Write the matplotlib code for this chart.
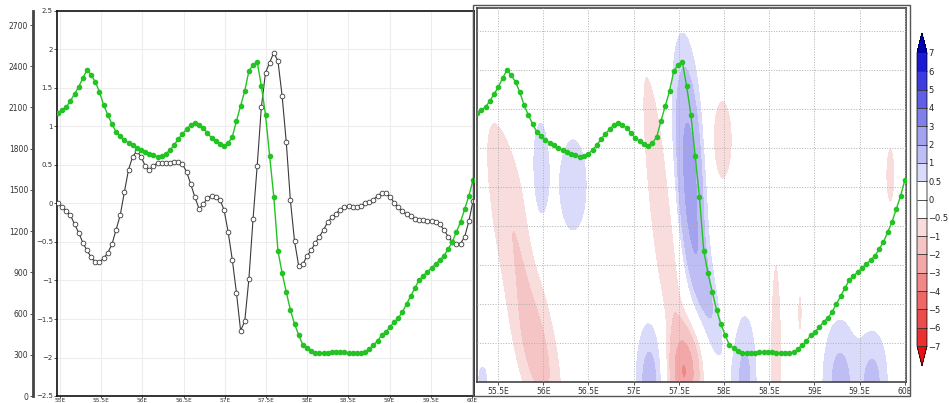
import numpy as np
import matplotlib
matplotlib.use("Agg")
import matplotlib.pyplot as plt
from matplotlib.colors import ListedColormap, BoundaryNorm
from matplotlib.patches import Rectangle

# ---------------- data ----------------
lon_left = np.linspace(54.976, 60.012, 101)
lon_right = np.linspace(55.268, 60.0, 101)

terrain_height = [
    2060, 2082, 2104, 2148, 2199, 2250, 2315, 2373, 2337, 2286,
    2213, 2118, 2046, 1980, 1922, 1893, 1864, 1842, 1827, 1805,
    1791, 1776, 1762, 1754, 1740, 1747, 1762, 1791, 1827, 1871,
    1907, 1944, 1973, 1987, 1973, 1951, 1915, 1878, 1856, 1835,
    1820, 1842, 1886, 2002, 2111, 2220, 2366, 2410, 2431, 2257,
    2046, 1747, 1449, 1056, 895, 757, 626, 524, 444, 371,
    349, 328, 313, 313, 313, 313, 320, 320, 320, 320,
    313, 313, 313, 313, 320, 342, 371, 400, 444, 466,
    502, 539, 568, 612, 670, 728, 786, 844, 874, 903,
    932, 961, 990, 1019, 1070, 1121, 1194, 1267, 1361, 1456,
    1572]

anomaly = [
    0.00, -0.05, -0.10, -0.15, -0.27, -0.38, -0.51, -0.61, -0.70, -0.76,
    -0.76, -0.71, -0.64, -0.53, -0.34, -0.15, 0.15, 0.44, 0.61, 0.68,
    0.61, 0.49, 0.44, 0.49, 0.53, 0.53, 0.53, 0.53, 0.54, 0.54,
    0.51, 0.41, 0.25, 0.08, -0.07, -0.01, 0.07, 0.10, 0.09, 0.05,
    -0.08, -0.37, -0.73, -1.16, -1.65, -1.53, -0.98, -0.20, 0.49, 1.25,
    1.70, 1.83, 1.96, 1.85, 1.40, 0.80, 0.04, -0.49, -0.81, -0.79,
    -0.68, -0.61, -0.51, -0.43, -0.34, -0.24, -0.18, -0.13, -0.08, -0.05,
    -0.03, -0.04, -0.04, -0.03, 0.00, 0.02, 0.05, 0.10, 0.13, 0.13,
    0.09, 0.01, -0.05, -0.10, -0.14, -0.16, -0.20, -0.21, -0.22, -0.23,
    -0.23, -0.24, -0.27, -0.34, -0.43, -0.50, -0.53, -0.52, -0.43, -0.23,
    0.03]

x_ticks_left = [55.0, 55.5, 56.0, 56.5, 57.0, 57.5, 58.0, 58.5, 59.0, 59.5, 60.0]
x_labels_left = ["55E", "55.5E", "56E", "56.5E", "57E", "57.5E", "58E",
                 "58.5E", "59E", "59.5E", "60E"]
x_ticks_right = [55.5, 56.0, 56.5, 57.0, 57.5, 58.0, 58.5, 59.0, 59.5, 60.0]
x_labels_right = ["55.5E", "56E", "56.5E", "57E", "57.5E", "58E",
                  "58.5E", "59E", "59.5E", "60E"]
height_ticks = [0, 300, 600, 900, 1200, 1500, 1800, 2100, 2400, 2700]
anom_ticks = [-2.5, -2, -1.5, -1, -0.5, 0, 0.5, 1, 1.5, 2, 2.5]
anom_labels = ["\u22122.5", "\u22122", "\u22121.5", "\u22121", "\u22120.5", "0",
               "0.5", "1", "1.5", "2", "2.5"]
cbar_levels = [-7, -6, -5, -4, -3, -2, -1, -0.5, 0, 0.5, 1, 2, 3, 4, 5, 6, 7]
cbar_labels = ["\u22127", "\u22126", "\u22125", "\u22124", "\u22123", "\u22122",
               "\u22121", "\u22120.5", "0", "0.5", "1", "2", "3", "4", "5", "6", "7"]

# cross-section features (centre lon, centre height, widths, amplitude, tilt)
blob_lon = [55.70, 55.95, 55.965, 56.33, 57.336, 57.57, 57.62, 57.80, 57.18,
            58.23, 58.575, 58.84, 57.98, 59.28, 59.65, 59.84, 55.33]
blob_h = [1099, 250, 1609, 1536, 1208, 180, 1650, 750, 100,
          100, 100, 604, 1864, 100, 100, 1609, 130]
blob_sx = [0.185, 0.16, 0.08, 0.133, 0.113, 0.12, 0.105, 0.09, 0.11,
           0.094, 0.06, 0.03, 0.114, 0.14, 0.12, 0.06, 0.05]
blob_sy = [760, 330, 350, 303, 955, 220, 560, 380, 320,
           360, 800, 170, 300, 340, 280, 250, 100]
blob_amp = [-1.0, -0.8, 0.9, 0.9, -1.0, -2.6, 2.4, 1.0, 1.3,
            1.2, -0.9, -0.7, -0.8, 1.2, 1.15, -0.7, 0.7]
blob_tilt = [-0.27, -0.27, 0.0, 0.0, -0.17, 0.0, -0.08, -0.3, 0.0,
             0.0, 0.0, 0.0, 0.0, 0.0, 0.0, 0.0, 0.0]

# ---------------- figure ----------------
W, Hpx = 949, 403
fig = plt.figure(figsize=(W / 100, Hpx / 100), dpi=100)


def fbox(x0, y0, x1, y1):
    return [x0 / W, 1 - y1 / Hpx, (x1 - x0) / W, (y1 - y0) / Hpx]


green = "#22c322"
tick_col = "#333333"

# ---- left panel ----
axL = fig.add_axes(fbox(57, 11, 474, 396))
axL.set_xlim(54.964, 60.024)
axL.set_ylim(-2.5, 2.5)
axL.plot(lon_left, anomaly, color="#3a3a3a", lw=0.8, marker="o", ms=3.4,
         mfc="white", mec="#3a3a3a", mew=0.6, zorder=3)
axL.set_xticks(x_ticks_left)
axL.set_xticklabels(x_labels_left)
axL.set_yticks(anom_ticks)
axL.set_yticklabels(anom_labels)
axL.tick_params(axis="y", labelsize=5, colors=tick_col, length=2, width=0.6, pad=1)
axL.tick_params(axis="x", labelsize=4.2, colors=tick_col, length=1.5, width=0.6, pad=0.3)
axL.grid(True, color="#ededed", lw=0.8)
axL.set_axisbelow(True)
for s in axL.spines.values():
    s.set_linewidth(1.2)
    s.set_color("#111111")

axH = axL.twinx()
axH.set_ylim(0, 2802)
axH.yaxis.set_ticks_position("left")
axH.yaxis.set_label_position("left")
axH.spines["left"].set_position(("outward", 24 * 0.72))
axH.spines["left"].set_visible(True)
axH.spines["left"].set_linewidth(2)
axH.spines["left"].set_color("#444444")
axH.spines["right"].set_visible(False)
axH.spines["top"].set_visible(False)
axH.spines["bottom"].set_visible(False)
axH.set_yticks(height_ticks)
axH.tick_params(axis="y", labelsize=5.5, colors=tick_col, length=2.5, width=0.6, pad=1)
axH.plot(lon_left, terrain_height, color=green, lw=1.0, marker="o", ms=3.0,
         mfc=green, mec=green, zorder=4)

# ---- right panel ----
axR = fig.add_axes(fbox(477, 8, 906, 382))
LON, HH = np.meshgrid(np.linspace(55.268, 60.013, 320), np.linspace(102, 2825, 240))
Z = np.zeros_like(LON)
for lo, h0, sx, sy, a, tl in zip(blob_lon, blob_h, blob_sx, blob_sy, blob_amp, blob_tilt):
    xc = lo + tl * (HH - h0) / 1000.0
    Z += a * np.exp(-0.5 * ((LON - xc) / sx) ** 2 - 0.5 * ((HH - h0) / sy) ** 2)

band_colors = ["#ea3030", "#ec4c4c", "#ee6868", "#f08888", "#f2a8a8", "#f5c4c4",
               "#f9dcdc", "#ffffff", "#ffffff", "#dadafa", "#bebef4", "#a2a2ee",
               "#8080ea", "#5e5ee6", "#3c3ce0", "#1a1ad2"]
cmap = ListedColormap(band_colors)
cmap.set_over("#0000b4")
cmap.set_under("#e81010")
norm = BoundaryNorm(cbar_levels, ncolors=len(band_colors))
cf = axR.contourf(LON, HH, Z, levels=cbar_levels, cmap=cmap, norm=norm, extend="both")

axR.plot(lon_right, terrain_height, color=green, lw=1.0, marker="o", ms=3.0,
         mfc=green, mec=green, zorder=4)
axR.set_xlim(55.268, 60.013)
axR.set_ylim(102, 2825)
axR.set_xticks(x_ticks_right)
axR.set_xticklabels(x_labels_right)
axR.set_yticks(np.arange(386, 2800, 284))
axR.tick_params(axis="y", length=0, labelleft=False)
axR.tick_params(axis="x", labelsize=5.5, colors=tick_col, length=2, width=0.6, pad=1.5)
axR.grid(True, ls=":", color="#b0b0b0", lw=0.7)
axR.set_axisbelow(False)
for s in axR.spines.values():
    s.set_linewidth(1.2)
    s.set_color("#444444")

fig.add_artist(Rectangle((473 / W, 1 - 396 / Hpx), (910 - 473) / W, (396 - 5) / Hpx,
                         transform=fig.transFigure, fill=False, ec="#555555", lw=1.0))

# ---- colorbar ----
cax = fig.add_axes(fbox(917, 33, 927, 366))
cb = fig.colorbar(cf, cax=cax, extendfrac=0.068, drawedges=True, ticks=cbar_levels)
cb.set_ticklabels(cbar_labels)
cb.ax.tick_params(labelsize=6, length=0, pad=1, colors="#222222")
cb.outline.set_linewidth(0.5)
cb.dividers.set_linewidth(0.6)
cb.dividers.set_color("#333333")

fig.savefig("out.png", dpi=100)
